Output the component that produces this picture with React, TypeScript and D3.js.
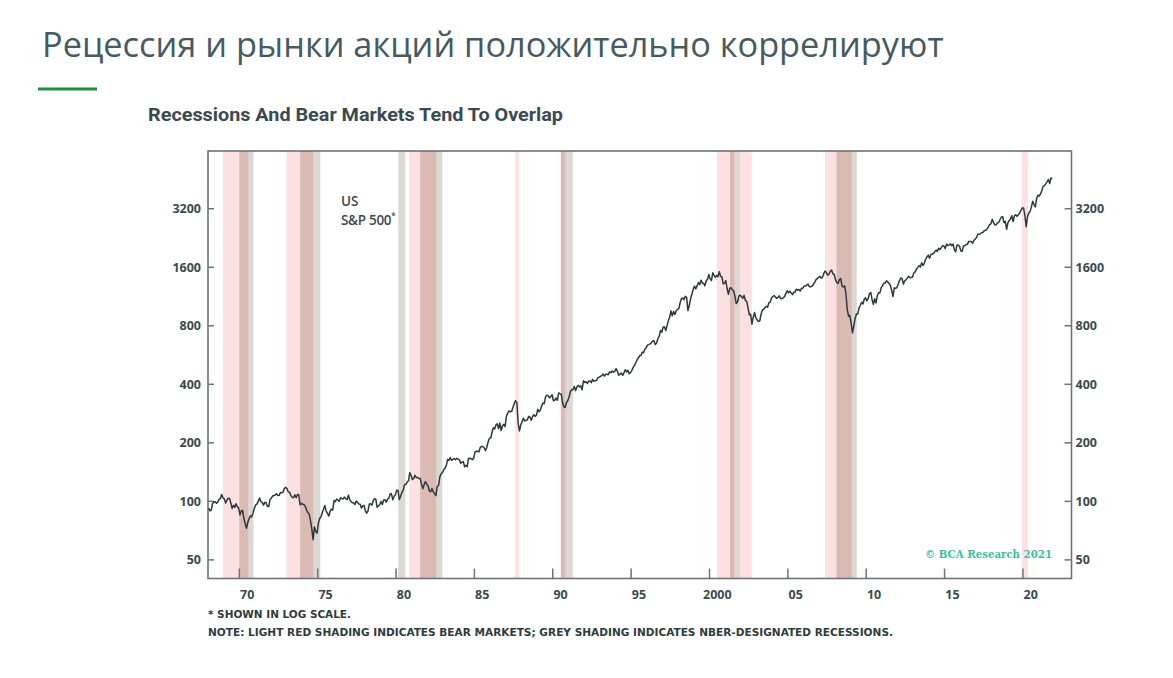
import React from "react";
import * as d3 from "d3";

// ---------- DATA ----------
const startYear = 1968;
// S&P 500 monthly closes, Jan 1968 .. Nov 2021 (read from chart / approximated)
const spx: number[] = [
  92.2, 89.4, 90.2, 97.6, 98.7, 99.6, 97.7, 98.9, 102.7, 103.4, 108.4, 103.9,
  103.0, 98.1, 101.5, 103.7, 103.5, 97.7, 91.8, 95.5, 93.1, 97.2, 93.8, 92.1,
  85.0, 89.5, 89.6, 81.5, 76.6, 72.7, 78.1, 81.5, 84.2, 83.3, 87.2, 92.2,
  95.9, 96.8, 100.3, 104.0, 99.6, 98.7, 95.6, 99.0, 98.3, 94.2, 94.0, 102.1,
  103.9, 106.6, 107.2, 107.7, 109.5, 107.1, 107.4, 111.1, 110.6, 111.6, 116.7, 118.1,
  116.0, 111.7, 111.5, 107.0, 105.0, 104.3, 108.2, 104.3, 108.4, 108.3, 96.0, 97.6,
  96.6, 96.2, 94.0, 90.3, 87.3, 86.0, 79.3, 72.2, 63.5, 73.9, 70.0, 68.6,
  77.0, 81.6, 83.4, 87.3, 91.2, 95.2, 88.8, 86.9, 83.9, 89.0, 91.2, 90.2,
  100.9, 99.7, 102.8, 101.6, 100.2, 104.3, 103.4, 102.9, 105.2, 102.9, 102.1, 107.5,
  102.0, 99.8, 98.4, 98.4, 96.1, 100.5, 98.9, 96.8, 96.5, 92.3, 94.8, 95.1,
  89.3, 87.0, 89.2, 96.8, 97.2, 95.5, 100.7, 103.3, 102.5, 93.2, 94.7, 96.1,
  99.9, 96.3, 101.6, 101.8, 99.1, 102.9, 103.8, 109.3, 109.3, 101.8, 106.2, 107.9,
  114.2, 113.7, 102.1, 106.3, 111.2, 114.2, 121.7, 122.4, 125.5, 127.5, 140.5, 135.8,
  129.6, 131.3, 136.0, 132.8, 132.6, 131.2, 130.9, 122.8, 116.2, 121.9, 126.4, 122.6,
  120.4, 113.1, 112.0, 116.4, 111.9, 109.6, 107.1, 119.5, 120.4, 133.7, 138.5, 140.6,
  145.3, 148.1, 153.0, 164.4, 162.4, 168.1, 162.6, 164.4, 166.1, 163.6, 166.4, 164.9,
  163.4, 157.1, 159.2, 160.1, 150.6, 153.2, 150.7, 166.7, 166.1, 166.1, 163.6, 167.2,
  179.6, 181.2, 180.7, 179.8, 189.6, 191.9, 190.9, 188.6, 182.1, 189.8, 202.2, 211.3,
  211.8, 226.9, 238.9, 235.5, 247.4, 250.8, 236.1, 252.9, 231.3, 244.0, 249.2, 242.2,
  274.1, 284.2, 291.7, 288.4, 290.1, 304.0, 318.7, 329.8, 321.8, 251.8, 230.3, 247.1,
  257.1, 267.8, 258.9, 261.3, 262.2, 273.5, 272.0, 261.5, 271.9, 279.0, 273.7, 277.7,
  297.5, 288.9, 294.9, 309.6, 320.5, 318.0, 346.1, 351.5, 349.2, 340.4, 346.0, 353.4,
  329.1, 331.9, 339.9, 330.8, 361.2, 358.0, 356.2, 322.6, 306.1, 304.0, 322.2, 330.2,
  343.9, 367.1, 375.2, 375.4, 389.8, 371.2, 387.8, 395.4, 387.9, 392.5, 375.2, 417.1,
  408.8, 412.7, 403.7, 415.0, 415.4, 408.1, 424.2, 414.0, 417.8, 418.7, 431.4, 435.7,
  438.8, 443.4, 451.7, 440.2, 450.2, 450.5, 448.1, 463.6, 458.9, 467.8, 461.8, 466.5,
  481.6, 467.1, 445.8, 450.9, 456.5, 444.3, 458.3, 475.5, 462.7, 472.4, 453.7, 459.3,
  470.4, 487.4, 500.7, 514.7, 533.4, 544.8, 562.1, 561.9, 584.4, 581.5, 605.4, 615.9,
  636.0, 640.4, 645.5, 654.2, 669.1, 670.6, 640.0, 652.0, 687.3, 705.3, 757.0, 740.7,
  786.2, 790.8, 757.1, 801.3, 848.3, 885.1, 954.3, 899.5, 947.3, 914.6, 955.4, 970.4,
  980.3, 1049.3, 1101.8, 1111.8, 1090.8, 1133.8, 1120.7, 957.3, 1017.0, 1098.7, 1163.6, 1229.2,
  1279.6, 1238.3, 1286.4, 1335.2, 1301.8, 1372.7, 1328.7, 1320.4, 1282.7, 1362.9, 1388.9, 1469.3,
  1394.5, 1366.4, 1498.6, 1452.4, 1420.6, 1454.6, 1430.8, 1517.7, 1436.5, 1429.4, 1315.0, 1320.3,
  1366.0, 1239.9, 1160.3, 1249.5, 1255.8, 1224.4, 1211.2, 1133.6, 1040.9, 1059.8, 1139.5, 1148.1,
  1130.2, 1106.7, 1147.4, 1076.9, 1067.1, 989.8, 911.6, 916.1, 815.3, 885.8, 936.3, 879.8,
  855.7, 841.2, 848.2, 916.9, 963.6, 974.5, 990.3, 1008.0, 996.0, 1050.7, 1058.2, 1111.9,
  1131.1, 1144.9, 1126.2, 1107.3, 1120.7, 1140.8, 1101.7, 1104.2, 1114.6, 1130.2, 1173.8, 1211.9,
  1181.3, 1203.6, 1180.6, 1156.9, 1191.5, 1191.3, 1234.2, 1220.3, 1228.8, 1207.0, 1249.5, 1248.3,
  1280.1, 1280.7, 1294.8, 1310.6, 1270.1, 1270.2, 1276.7, 1303.8, 1335.9, 1377.9, 1400.6, 1418.3,
  1438.2, 1406.8, 1420.9, 1482.4, 1530.6, 1503.4, 1455.3, 1474.0, 1526.8, 1549.4, 1481.1, 1468.4,
  1378.6, 1330.6, 1322.7, 1385.6, 1400.4, 1280.0, 1267.4, 1282.8, 1166.4, 968.8, 896.2, 903.3,
  825.9, 735.1, 797.9, 872.8, 919.1, 919.3, 987.5, 1020.6, 1057.1, 1036.2, 1095.6, 1115.1,
  1073.9, 1104.5, 1169.4, 1186.7, 1089.4, 1030.7, 1101.6, 1049.3, 1141.2, 1183.3, 1180.6, 1257.6,
  1286.1, 1327.2, 1325.8, 1363.6, 1345.2, 1320.6, 1292.3, 1218.9, 1131.4, 1253.3, 1247.0, 1257.6,
  1312.4, 1365.7, 1408.5, 1397.9, 1310.3, 1362.2, 1379.3, 1406.6, 1440.7, 1412.2, 1416.2, 1426.2,
  1498.1, 1514.7, 1569.2, 1597.6, 1630.7, 1606.3, 1685.7, 1633.0, 1681.6, 1756.5, 1805.8, 1848.4,
  1782.6, 1859.5, 1872.3, 1884.0, 1923.6, 1960.2, 1930.7, 2003.4, 1972.3, 2018.1, 2067.6, 2058.9,
  1995.0, 2104.5, 2067.9, 2085.5, 2107.4, 2063.1, 2103.8, 1972.2, 1920.0, 2079.4, 2080.4, 2043.9,
  1940.2, 1932.2, 2059.7, 2065.3, 2097.0, 2098.9, 2173.6, 2171.0, 2168.3, 2126.2, 2198.8, 2238.8,
  2278.9, 2363.6, 2362.7, 2384.2, 2411.8, 2423.4, 2470.3, 2471.7, 2519.4, 2575.3, 2647.6, 2673.6,
  2823.8, 2713.8, 2640.9, 2648.1, 2705.3, 2718.4, 2816.3, 2901.5, 2914.0, 2711.7, 2760.2, 2506.9,
  2704.1, 2784.5, 2834.4, 2945.8, 2752.1, 2941.8, 2980.4, 2926.5, 2976.7, 3037.6, 3141.0, 3230.8,
  3225.5, 2954.2, 2584.6, 2912.4, 3044.3, 3100.3, 3271.1, 3500.3, 3363.0, 3270.0, 3621.6, 3756.1,
  3714.2, 3811.2, 3972.9, 4181.2, 4204.1, 4297.5, 4395.3, 4522.7, 4307.5, 4605.4, 4567.0,
];

// Bear markets (light red) and NBER recessions (grey), as [start, end] in decimal years
const bearMarkets: [number, number][] = [
  [1968.96, 1970.57],
  [1973.0, 1974.72],
  [1980.84, 1982.56],
  [1987.6, 1987.86],
  [1990.5, 1990.8],
  [2000.48, 2001.6],
  [2001.95, 2002.7],
  [2007.37, 2009.08],
  [2019.94, 2020.32],
];
const recessions: [number, number][] = [
  [1970.0, 1970.9],
  [1973.89, 1975.17],
  [1980.14, 1980.59],
  [1981.54, 1982.95],
  [1990.53, 1991.28],
  [2001.31, 2001.95],
  [2008.11, 2009.4],
];

const yTicks = [50, 100, 200, 400, 800, 1600, 3200];
const xTickYears = [1970, 1975, 1980, 1985, 1990, 1995, 2000, 2005, 2010, 2015, 2020];
const xTickLabels = ["70", "75", "80", "85", "90", "95", "2000", "05", "10", "15", "20"];

const titleText = "Рецессия и рынки акций положительно коррелируют";
const subtitleText = "Recessions And Bear Markets Tend To Overlap";
const note1 = "* SHOWN IN LOG SCALE.";
const note2 =
  "NOTE: LIGHT RED SHADING INDICATES BEAR MARKETS; GREY SHADING INDICATES NBER-DESIGNATED RECESSIONS.";
const watermark = "© BCA Research 2021";

// ---------- LAYOUT ----------
const W = 1173;
const H = 678;
const plot = { left: 208, right: 1071.5, top: 151, bottom: 578.5 };

const PINK = "#fde1e2";
const GREY = "#dcd9d4";
const OVERLAP = "#dcbab4";
const AXIS = "#6b7477";
const LABEL = "#3a4a50";

export default function App() {
  const x = d3.scaleLinear().domain([1968.0, 2023.1]).range([plot.left, plot.right]);
  const y = d3.scaleLog().domain([40.1, 6340]).range([plot.bottom, plot.top]);

  const pts = spx.map((v, i) => ({ t: startYear + (i + 0.5) / 12, v }));
  const line = d3
    .line<{ t: number; v: number }>()
    .x((d) => x(d.t))
    .y((d) => y(d.v))
    .curve(d3.curveLinear);

  const overlaps: [number, number][] = [];
  bearMarkets.forEach(([a, b]) => {
    recessions.forEach(([c, d]) => {
      const s = Math.max(a, c);
      const e = Math.min(b, d);
      if (e > s) overlaps.push([s, e]);
    });
  });

  const band = (arr: [number, number][], fill: string, key: string) =>
    arr.map(([a, b], i) => (
      <rect
        key={key + i}
        x={x(a)}
        y={plot.top}
        width={x(b) - x(a)}
        height={plot.bottom - plot.top}
        fill={fill}
      />
    ));

  const axisFont = "'Open Sans', 'Noto Sans', sans-serif";
  const noteFont = "'Liberation Sans Narrow', 'DejaVu Sans Condensed', Roboto, sans-serif";

  return (
    <svg
      width={W}
      height={H}
      style={{ position: "absolute", left: 0, top: 0, display: "block", background: "#fff" }}
    >
      <text
        x={42}
        y={57}
        fontFamily="'Open Sans', 'Noto Sans', sans-serif"
        fontSize={34.3}
        fill="#465a60"
      >
        {titleText}
      </text>
      <rect x={38} y={87.5} width={59} height={3} fill="#1f8f3f" />
      <text
        x={148}
        y={121}
        fontFamily="Roboto, 'Noto Sans', sans-serif"
        fontWeight={700}
        fontSize={17.5}
        fill="#3b4a50"
        textLength={415}
        lengthAdjust="spacingAndGlyphs"
      >
        {subtitleText}
      </text>

      {/* shading */}
      {band(bearMarkets, PINK, "b")}
      {band(recessions, GREY, "r")}
      {band(overlaps, OVERLAP, "o")}

      {/* frame */}
      <rect
        x={plot.left}
        y={plot.top}
        width={plot.right - plot.left}
        height={plot.bottom - plot.top}
        fill="none"
        stroke={AXIS}
        strokeWidth={1.6}
      />

      {/* y ticks left & right */}
      {yTicks.map((t) => (
        <g key={"yt" + t}>
          <line x1={plot.left} x2={plot.left + 6} y1={y(t)} y2={y(t)} stroke={AXIS} strokeWidth={1.5} />
          <line x1={plot.right - 7} x2={plot.right} y1={y(t)} y2={y(t)} stroke={AXIS} strokeWidth={1.5} />
          <text
            x={plot.left - 7}
            y={y(t) + 4.5}
            textAnchor="end"
            fontFamily={axisFont}
            fontWeight={700}
            fontSize={12.5}
            fill={LABEL}
          >
            {t}
          </text>
          <text
            x={plot.right + 4}
            y={y(t) + 4.5}
            textAnchor="start"
            fontFamily={axisFont}
            fontWeight={700}
            fontSize={12.5}
            fill={LABEL}
          >
            {t}
          </text>
        </g>
      ))}

      {/* x ticks */}
      {xTickYears.map((yr, i) => (
        <g key={"xt" + yr}>
          <line x1={x(yr)} x2={x(yr)} y1={plot.bottom - 10} y2={plot.bottom} stroke={AXIS} strokeWidth={1.5} />
          <text
            x={x(yr + 0.5)}
            y={599}
            textAnchor="middle"
            fontFamily={axisFont}
            fontWeight={700}
            fontSize={12.5}
            fill={LABEL}
          >
            {xTickLabels[i]}
          </text>
        </g>
      ))}

      {/* series */}
      <path d={line(pts) || ""} fill="none" stroke="#2c3a3c" strokeWidth={1.5} strokeLinejoin="round" />

      {/* series label */}
      <text x={341} y={206} fontFamily={axisFont} fontWeight={600} fontSize={13.5} fill={LABEL}>
        US
      </text>
      <text x={341} y={225} fontFamily={axisFont} fontWeight={600} fontSize={13.5} fill={LABEL} letterSpacing={-0.3}>
        S&amp;P 500
        <tspan fontSize={8} dy={-6}>*</tspan>
      </text>

      {/* watermark */}
      <text
        x={925}
        y={558}
        fontFamily="'DejaVu Serif', 'Liberation Serif', serif"
        fontSize={11.5}
        fontWeight={700}
        fill="#3cbf9c"
        textLength={127}
        lengthAdjust="spacingAndGlyphs"
      >
        {watermark}
      </text>

      {/* notes */}
      <text
        x={208}
        y={618}
        fontFamily={noteFont}
        fontWeight={700}
        fontSize={11}
        fill="#2f3b40"
        textLength={143}
        lengthAdjust="spacingAndGlyphs"
      >
        {note1}
      </text>
      <text
        x={208}
        y={636}
        fontFamily={noteFont}
        fontWeight={700}
        fontSize={11}
        fill="#2f3b40"
        textLength={685}
        lengthAdjust="spacingAndGlyphs"
      >
        {note2}
      </text>
    </svg>
  );
}
